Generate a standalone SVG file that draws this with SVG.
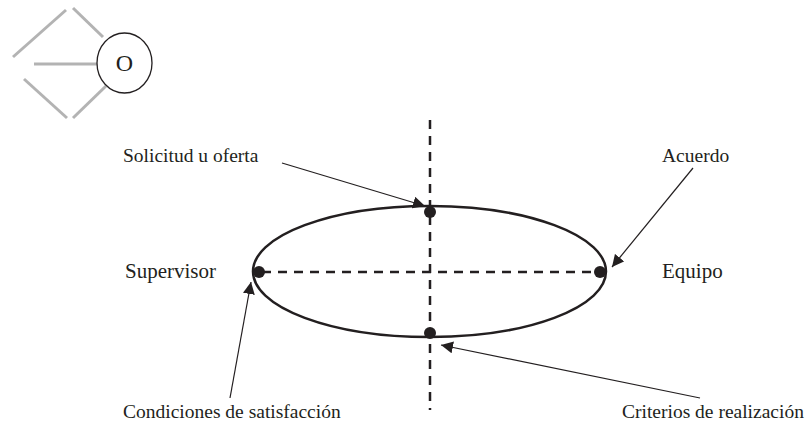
<svg xmlns="http://www.w3.org/2000/svg" width="805" height="424" viewBox="0 0 805 424">
<defs>
<style>
text{font-family:"Liberation Serif","Times New Roman",serif;font-size:19.5px;fill:#231f20}
.big{font-size:21px}
.g{stroke:#b3b3b3;stroke-width:3;fill:none}
.dash{stroke:#231f20;stroke-width:2.5;stroke-dasharray:9,7;fill:none}
.arr{stroke:#231f20;stroke-width:1.2;fill:none;marker-end:url(#ah)}
.dot{fill:#231f20}
</style>
<marker id="ah" viewBox="0 0 10 10" refX="10" refY="5" markerWidth="12" markerHeight="12" markerUnits="userSpaceOnUse" orient="auto">
<path d="M0,0 L10,5 L0,10 z" fill="#231f20"/>
</marker>
</defs>
<g id="logo">
<line class="g" x1="13" y1="57" x2="66" y2="10"/>
<line class="g" x1="73" y1="8" x2="103" y2="37"/>
<line class="g" x1="34" y1="64" x2="97" y2="64"/>
<line class="g" x1="24" y1="79" x2="67" y2="118"/>
<line class="g" x1="73" y1="118" x2="106" y2="86"/>
<ellipse cx="124.5" cy="63" rx="27.5" ry="30" fill="#fff" stroke="#231f20" stroke-width="1.3"/>
<text x="124.5" y="71" text-anchor="middle" style="font-size:24px">O</text>
</g>
<g id="axes">
<line class="dash" x1="430" y1="120" x2="430" y2="410"/>
<line class="dash" x1="262" y1="272" x2="600" y2="272"/>
</g>
<g id="ellipse">
<ellipse cx="429.5" cy="271.5" rx="176.5" ry="65.5" fill="none" stroke="#231f20" stroke-width="2.5"/>
</g>
<g id="dots">
<circle class="dot" cx="430" cy="212" r="6"/>
<circle class="dot" cx="259" cy="272" r="6"/>
<circle class="dot" cx="600" cy="272" r="6"/>
<circle class="dot" cx="430" cy="333" r="6"/>
</g>
<g id="connectors">
<line class="arr" x1="282" y1="163" x2="425" y2="206"/>
<line class="arr" x1="693" y1="168" x2="612" y2="267"/>
<line class="arr" x1="230" y1="398" x2="251" y2="282"/>
<line class="arr" x1="700" y1="398" x2="441" y2="345"/>
</g>
<g id="labels">
<text id="solicitud" x="123" y="162">Solicitud u oferta</text>
<text id="acuerdo" x="662" y="162">Acuerdo</text>
<text id="supervisor" class="big" x="125" y="278">Supervisor</text>
<text id="equipo" class="big" x="662" y="278">Equipo</text>
<text id="condiciones" x="123" y="418">Condiciones de satisfacción</text>
<text id="criterios" x="622" y="418">Criterios de realización</text>
</g>
</svg>
